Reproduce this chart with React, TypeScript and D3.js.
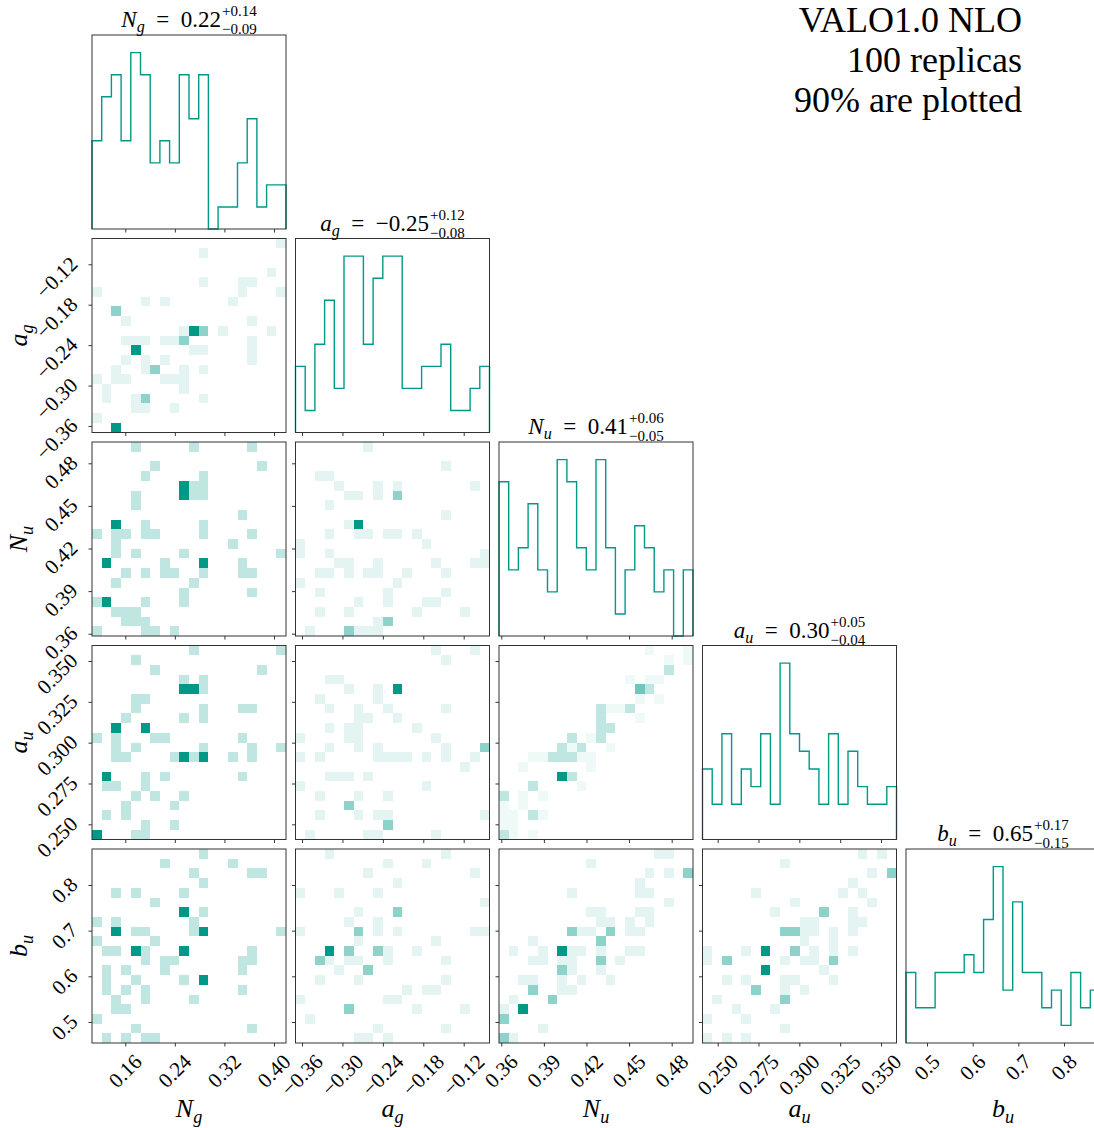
import * as d3 from "d3";
import { useEffect, useRef } from "react";

// parameter names: symbol + subscript
const symbols = ["N", "a", "N", "a", "b"];
const subs = ["g", "g", "u", "u", "u"];

// plotted range of each parameter (min, max of the replicas)
const rangeLo = [0.1063, -0.3697, 0.3584, 0.2407, 0.454];
const rangeHi = [0.4194, -0.0817, 0.495, 0.3595, 0.8788];

// tick values
const ticksNg = [0.16, 0.24, 0.32, 0.4];
const ticksAg = [-0.36, -0.3, -0.24, -0.18, -0.12];
const ticksNu = [0.36, 0.39, 0.42, 0.45, 0.48];
const ticksAu = [0.25, 0.275, 0.3, 0.325, 0.35];
const ticksBu = [0.5, 0.6, 0.7, 0.8];
const tickDigits = [2, 2, 2, 3, 1];

// title numbers (median, +err, -err)
const medians = [0.22, -0.25, 0.41, 0.3, 0.65];
const errUp = [0.14, 0.12, 0.06, 0.05, 0.17];
const errDown = [0.09, 0.08, 0.05, 0.04, 0.15];

// 1D histograms, 20 bins each
const histNg = [4, 6, 7, 4, 8, 7, 3, 4, 3, 7, 5, 7, 0, 1, 1, 3, 5, 1, 2, 2];
const histAg = [3, 1, 4, 6, 2, 8, 8, 4, 7, 8, 8, 2, 2, 3, 3, 4, 1, 1, 2, 3];
const histNu = [7, 3, 4, 6, 3, 2, 8, 7, 4, 3, 8, 4, 1, 3, 5, 4, 2, 3, 0, 3];
const histAu = [4, 2, 6, 2, 4, 3, 6, 2, 10, 6, 5, 4, 2, 6, 2, 5, 3, 2, 2, 3];
const histBu = [4, 2, 2, 4, 4, 4, 5, 4, 7, 10, 3, 8, 4, 4, 2, 3, 1, 4, 2, 3];

// 2D histograms: [x bin, y bin (from bottom), count]
const cellsNgAg = [
  [19, 19, 1], [11, 18, 1], [18, 16, 1], [11, 15, 1], [15, 15, 1], [16, 15, 1],
  [0, 14, 1], [15, 14, 1], [19, 14, 1], [5, 13, 1], [7, 13, 1], [14, 13, 1],
  [2, 12, 2], [3, 11, 1], [16, 11, 1],
  [9, 10, 1], [10, 10, 3], [11, 10, 2], [13, 10, 1], [18, 10, 1],
  [3, 9, 1], [4, 9, 1], [5, 9, 1], [7, 9, 1], [8, 9, 1], [9, 9, 2], [16, 9, 1],
  [4, 8, 3], [10, 8, 1], [11, 8, 1], [16, 8, 1],
  [3, 7, 1], [5, 7, 1], [7, 7, 1], [16, 7, 1],
  [2, 6, 1], [5, 6, 1], [6, 6, 2], [9, 6, 1], [11, 6, 1],
  [0, 5, 1], [2, 5, 1], [3, 5, 1], [7, 5, 1], [8, 5, 1], [9, 5, 1],
  [1, 4, 1], [9, 4, 1], [1, 3, 1], [4, 3, 1], [5, 3, 2], [11, 3, 1],
  [4, 2, 1], [5, 2, 1], [8, 2, 1], [0, 1, 1], [2, 0, 3],
];
const cellsNgNu = [
  [4, 19, 1], [10, 19, 1], [16, 19, 1], [6, 17, 1], [17, 17, 1], [5, 16, 1], [11, 16, 1],
  [9, 15, 2], [10, 15, 1], [11, 15, 1], [4, 14, 1], [9, 14, 2], [10, 14, 1], [11, 14, 1],
  [4, 13, 1], [15, 12, 1], [2, 11, 2], [5, 11, 1], [11, 11, 1],
  [0, 10, 1], [2, 10, 1], [3, 10, 1], [5, 10, 1], [6, 10, 1], [11, 10, 1], [16, 10, 1],
  [2, 9, 1], [14, 9, 1], [2, 8, 1], [4, 8, 1], [9, 8, 1], [19, 8, 1],
  [1, 7, 2], [7, 7, 1], [11, 7, 2], [15, 7, 1],
  [3, 6, 1], [5, 6, 1], [7, 6, 1], [8, 6, 1], [11, 6, 1], [15, 6, 1], [16, 6, 1],
  [2, 5, 1], [10, 5, 1], [9, 4, 1], [16, 4, 1],
  [0, 3, 1], [1, 3, 2], [5, 3, 1], [9, 3, 1], [2, 2, 1], [3, 2, 1], [4, 2, 1],
  [3, 1, 1], [4, 1, 1], [5, 1, 1], [0, 0, 1], [5, 0, 1], [6, 0, 1], [8, 0, 1],
];
const cellsAgNu = [
  [7, 19, 1], [15, 17, 1], [2, 16, 1], [3, 16, 1],
  [4, 15, 1], [8, 15, 1], [10, 15, 1], [18, 15, 1],
  [5, 14, 1], [6, 14, 1], [8, 14, 1], [10, 14, 2], [3, 13, 1], [15, 12, 1],
  [5, 11, 1], [6, 11, 3],
  [3, 10, 1], [6, 10, 1], [7, 10, 1], [9, 10, 1], [10, 10, 1], [12, 10, 1],
  [0, 9, 1], [13, 9, 1], [0, 8, 1], [3, 8, 1], [19, 8, 1],
  [4, 7, 1], [5, 7, 1], [8, 7, 1], [14, 7, 1], [18, 7, 1], [19, 7, 1],
  [2, 6, 1], [3, 6, 1], [5, 6, 1], [7, 6, 1], [8, 6, 1], [11, 6, 1], [15, 6, 1],
  [0, 5, 1], [10, 5, 1], [2, 4, 1], [9, 4, 1], [15, 4, 1],
  [6, 3, 1], [9, 3, 1], [13, 3, 1], [14, 3, 1], [2, 2, 1], [5, 2, 1], [12, 2, 1], [17, 2, 1],
  [8, 1, 1], [9, 1, 2], [1, 0, 1], [5, 0, 2], [6, 0, 1], [7, 0, 1], [8, 0, 1],
];
const cellsNgAu = [
  [10, 19, 1], [19, 19, 1], [4, 18, 1], [6, 17, 1], [17, 17, 1], [9, 16, 1], [11, 16, 1],
  [9, 15, 2], [10, 15, 2], [11, 15, 1], [4, 14, 1], [5, 14, 1],
  [4, 13, 1], [11, 13, 1], [15, 13, 1], [16, 13, 1], [3, 12, 1], [9, 12, 1], [11, 12, 1],
  [2, 11, 2], [5, 11, 2], [0, 10, 1], [2, 10, 1], [6, 10, 1], [7, 10, 1], [15, 10, 1],
  [2, 9, 1], [4, 9, 1], [11, 9, 1], [16, 9, 1], [19, 9, 1],
  [2, 8, 1], [3, 8, 1], [8, 8, 1], [9, 8, 2], [10, 8, 1], [11, 8, 2], [14, 8, 1], [16, 8, 1],
  [1, 6, 2], [5, 6, 1], [7, 6, 1], [15, 6, 1], [1, 5, 1], [2, 5, 1], [5, 5, 1],
  [4, 4, 1], [6, 4, 1], [9, 4, 1], [3, 3, 1], [8, 3, 1], [1, 2, 1], [3, 2, 1],
  [5, 1, 1], [8, 1, 1], [0, 0, 2], [4, 0, 1], [5, 0, 1],
];
const cellsAgAu = [
  [14, 19, 1], [18, 19, 1], [15, 18, 1], [3, 16, 1], [4, 16, 1],
  [5, 15, 1], [8, 15, 1], [10, 15, 3], [2, 14, 1], [8, 14, 1],
  [3, 13, 1], [6, 13, 1], [9, 13, 1], [15, 13, 1], [6, 12, 1], [7, 12, 1], [10, 12, 1],
  [3, 11, 1], [5, 11, 1], [6, 11, 1], [12, 11, 1], [0, 10, 1], [5, 10, 1], [6, 10, 1], [14, 10, 1],
  [3, 9, 1], [6, 9, 1], [8, 9, 1], [15, 9, 1], [19, 9, 2],
  [0, 8, 1], [2, 8, 1], [8, 8, 1], [9, 8, 1], [10, 8, 1], [11, 8, 1], [13, 8, 1], [15, 8, 1], [18, 8, 1],
  [17, 7, 1], [3, 6, 1], [4, 6, 1], [5, 6, 1], [7, 6, 1], [0, 5, 1], [13, 5, 1],
  [2, 4, 1], [6, 4, 1], [9, 4, 1], [5, 3, 2],
  [2, 2, 1], [6, 2, 1], [8, 2, 1], [9, 2, 1], [19, 2, 1], [9, 1, 2],
  [1, 0, 1], [7, 0, 1], [8, 0, 1], [14, 0, 1],
];
const cellsNuAu = [
  [15, 19, 1], [19, 19, 1], [17, 18, 1], [19, 18, 1], [17, 17, 2],
  [13, 16, 1], [15, 16, 1], [16, 16, 1], [14, 15, 3], [15, 15, 2], [14, 14, 1], [16, 14, 1],
  [10, 13, 2], [11, 13, 1], [12, 13, 1], [13, 13, 2], [10, 12, 2], [14, 12, 1],
  [10, 11, 2], [11, 11, 2], [7, 10, 2], [9, 10, 1], [10, 10, 2],
  [6, 9, 2], [7, 9, 1], [8, 9, 2], [11, 9, 1],
  [3, 8, 1], [4, 8, 1], [5, 8, 2], [6, 8, 2], [7, 8, 2], [8, 8, 1], [9, 8, 1],
  [2, 7, 1], [9, 7, 1], [6, 6, 4], [7, 6, 2], [3, 5, 2], [8, 5, 1],
  [0, 4, 2], [2, 4, 1], [4, 4, 1], [0, 3, 1], [2, 3, 1],
  [0, 2, 1], [1, 2, 1], [3, 2, 2], [4, 2, 1], [0, 1, 1], [1, 1, 1],
  [0, 0, 2], [1, 0, 1], [3, 0, 1],
];
const cellsNgBu = [
  [11, 19, 1], [7, 18, 1], [14, 18, 1], [10, 17, 1], [16, 17, 1], [17, 17, 1], [11, 16, 1],
  [2, 15, 1], [4, 15, 1], [9, 15, 1], [6, 14, 1], [9, 13, 2], [11, 13, 1],
  [0, 12, 1], [2, 12, 1], [10, 12, 1],
  [2, 11, 2], [4, 11, 1], [5, 11, 1], [10, 11, 1], [11, 11, 2], [19, 11, 1],
  [0, 10, 1], [6, 10, 1], [1, 9, 1], [2, 9, 1], [4, 9, 2], [5, 9, 1], [9, 9, 2], [16, 9, 1],
  [5, 8, 1], [7, 8, 1], [8, 8, 1], [15, 8, 1], [16, 8, 1],
  [1, 7, 1], [3, 7, 1], [7, 7, 1], [15, 7, 1], [1, 6, 1], [4, 6, 1], [9, 6, 1], [11, 6, 2],
  [1, 5, 1], [3, 5, 1], [5, 5, 1], [15, 5, 1], [2, 4, 1], [5, 4, 1], [10, 4, 1],
  [2, 3, 1], [3, 3, 1], [0, 2, 1], [4, 1, 1], [16, 1, 1],
  [1, 0, 1], [3, 0, 1], [5, 0, 1], [6, 0, 1],
];
const cellsAgBu = [
  [3, 19, 1], [15, 19, 1], [9, 18, 1], [13, 18, 1], [7, 17, 1], [18, 17, 1], [10, 16, 1],
  [0, 15, 1], [4, 15, 1], [8, 15, 1], [19, 14, 1], [6, 13, 1], [10, 13, 2], [5, 12, 1], [8, 12, 1],
  [0, 11, 1], [6, 11, 2], [8, 11, 1], [10, 11, 1], [18, 11, 1], [19, 11, 1],
  [6, 10, 1], [14, 10, 1], [3, 9, 3], [5, 9, 2], [8, 9, 2], [9, 9, 1], [12, 9, 1],
  [2, 8, 2], [3, 8, 1], [5, 8, 1], [6, 8, 1], [9, 8, 1], [15, 8, 1],
  [4, 7, 1], [7, 7, 2], [2, 6, 1], [6, 6, 1], [15, 6, 1], [11, 5, 1], [13, 5, 1], [14, 5, 1],
  [0, 4, 1], [9, 4, 1], [10, 4, 1], [5, 3, 2], [12, 3, 1], [17, 3, 1], [1, 2, 1],
  [8, 1, 1], [15, 1, 1], [6, 0, 1], [7, 0, 1], [9, 0, 1],
];
const cellsNuBu = [
  [16, 19, 1], [17, 19, 1], [9, 18, 1], [15, 17, 1], [17, 17, 1], [19, 17, 2], [14, 16, 1],
  [7, 15, 1], [14, 15, 1], [15, 15, 1], [17, 14, 1],
  [9, 13, 1], [10, 13, 1], [14, 13, 1], [15, 13, 1], [10, 12, 1], [11, 12, 1], [13, 12, 1], [15, 12, 1],
  [7, 11, 2], [8, 11, 1], [9, 11, 1], [11, 11, 2], [13, 11, 1], [14, 11, 1], [3, 10, 1], [10, 10, 2],
  [1, 9, 1], [4, 9, 1], [6, 9, 3], [7, 9, 1], [8, 9, 1], [10, 9, 1], [13, 9, 1], [14, 9, 1],
  [3, 8, 1], [4, 8, 1], [6, 8, 1], [7, 8, 1], [10, 8, 2], [12, 8, 1],
  [6, 7, 2], [7, 7, 1], [10, 7, 1], [2, 6, 1], [3, 6, 1], [6, 6, 1], [8, 6, 1], [11, 6, 1],
  [3, 5, 2], [6, 5, 1], [7, 5, 1], [1, 4, 1], [5, 4, 2], [0, 3, 1], [2, 3, 3],
  [0, 2, 2], [4, 1, 1], [0, 0, 2], [1, 0, 1],
];
const cellsAuBu = [
  [16, 19, 1], [18, 19, 1], [8, 18, 1], [17, 17, 1], [19, 17, 2], [15, 16, 1],
  [5, 15, 1], [14, 15, 1], [16, 15, 1], [9, 14, 1], [17, 14, 1], [7, 13, 1], [12, 13, 2], [15, 13, 1],
  [10, 12, 1], [11, 12, 1], [15, 12, 1], [16, 12, 1],
  [8, 11, 2], [9, 11, 2], [10, 11, 1], [11, 11, 1], [13, 11, 1], [15, 11, 1], [10, 10, 1], [13, 10, 1],
  [0, 9, 1], [4, 9, 1], [6, 9, 3], [9, 9, 2], [11, 9, 1], [13, 9, 1], [15, 9, 1],
  [0, 8, 1], [2, 8, 2], [8, 8, 1], [10, 8, 1], [11, 8, 1], [13, 8, 2], [6, 7, 3], [12, 7, 1],
  [2, 6, 1], [4, 6, 1], [8, 6, 1], [9, 6, 1], [13, 6, 1], [5, 5, 2], [8, 5, 1], [10, 5, 1],
  [1, 4, 1], [8, 4, 2], [3, 3, 1], [7, 3, 1], [0, 2, 1], [4, 2, 1], [8, 1, 1],
  [0, 0, 1], [2, 0, 1], [4, 0, 1],
];

const infoLines = ["VALO1.0 NLO", "100 replicas", "90% are plotted"];

const hists = [histNg, histAg, histNu, histAu, histBu];
const ticks = [ticksNg, ticksAg, ticksNu, ticksAu, ticksBu];
const panels2d: [number, number, number[][]][] = [
  [0, 1, cellsNgAg], [0, 2, cellsNgNu], [1, 2, cellsAgNu],
  [0, 3, cellsNgAu], [1, 3, cellsAgAu], [2, 3, cellsNuAu],
  [0, 4, cellsNgBu], [1, 4, cellsAgBu], [2, 4, cellsNuBu], [3, 4, cellsAuBu],
];

const W = 1094;
const H = 1128;
const LEFT = 92;
const TOP = 35;
const SIZE = 194;
const STEP = 203.5;
const NBINS = 20;
const COLOR = "#009988";
const FONT = "'Liberation Serif', 'DejaVu Serif', serif";
const TICK_FS = 21;
const TITLE_FS = 23;
const SCRIPT_FS = 15;
const LABEL_FS = 26;

type TextSel = d3.Selection<SVGTextElement, unknown, null, undefined>;

const App = () => {
  const svgRef = useRef<SVGSVGElement | null>(null);

  useEffect(() => {
    const svg = d3.select(svgRef.current);
    svg.selectAll("*").remove();

    const n = symbols.length;
    const px = (i: number) => LEFT + i * STEP;
    const py = (j: number) => TOP + j * STEP;
    const xs = d3.range(n).map(i => d3.scaleLinear().domain([rangeLo[i], rangeHi[i]]).range([0, SIZE]));
    const ys = d3.range(n).map(i => d3.scaleLinear().domain([rangeLo[i], rangeHi[i]]).range([SIZE, 0]));
    const edges = (i: number) => d3.range(NBINS + 1).map(k => rangeLo[i] + (k * (rangeHi[i] - rangeLo[i])) / NBINS);
    const fmtTick = (i: number) => d3.format(`.${tickDigits[i]}f`);
    const fmt2 = d3.format(".2f");
    const shade = d3.interpolateRgb("#ffffff", COLOR);

    // 2D histograms
    panels2d.forEach(([c, r, cells]) => {
      const g = svg.append("g").attr("transform", `translate(${px(c)},${py(r)})`);
      const ex = edges(c);
      const ey = edges(r);
      const maxN = d3.max(cells, d => d[2]) ?? 1;
      g.selectAll("rect.cell")
        .data(cells)
        .enter()
        .append("rect")
        .attr("class", "cell")
        .attr("x", d => xs[c](ex[d[0]]))
        .attr("width", d => xs[c](ex[d[0] + 1]) - xs[c](ex[d[0]]))
        .attr("y", d => ys[r](ey[d[1] + 1]))
        .attr("height", d => ys[r](ey[d[1]]) - ys[r](ey[d[1] + 1]))
        .attr("fill", d => shade(Math.pow(d[2] / maxN, 2)))
        .attr("shape-rendering", "crispEdges");
    });

    // diagonal 1D histograms
    hists.forEach((h, i) => {
      const g = svg.append("g").attr("transform", `translate(${px(i)},${py(i)})`);
      const e = edges(i);
      const yh = d3.scaleLinear().domain([0, 1.1 * (d3.max(h) ?? 1)]).range([SIZE, 0]);
      const pts: [number, number][] = [[xs[i](e[0]), yh(0)]];
      h.forEach((v, k) => {
        pts.push([xs[i](e[k]), yh(v)]);
        pts.push([xs[i](e[k + 1]), yh(v)]);
      });
      pts.push([xs[i](e[NBINS]), yh(0)]);
      g.append("path")
        .attr("d", d3.line()(pts))
        .attr("fill", "none")
        .attr("stroke", COLOR)
        .attr("stroke-width", 1.4);
    });

    // frames + ticks
    for (let r = 0; r < n; r++) {
      for (let c = 0; c <= r; c++) {
        const g = svg.append("g").attr("transform", `translate(${px(c)},${py(r)})`);
        const xa = g.append("g")
          .attr("transform", `translate(0,${SIZE})`)
          .call(d3.axisBottom(xs[c]).tickValues(ticks[c]).tickSize(3.5).tickFormat(() => ""));
        xa.select(".domain").remove();
        if (c !== r) {
          const ya = g.append("g")
            .call(d3.axisLeft(ys[r]).tickValues(ticks[r]).tickSize(3.5).tickFormat(() => ""));
          ya.select(".domain").remove();
        }
        g.selectAll(".tick line").attr("stroke", "#000").attr("stroke-width", 0.8);
        g.append("rect")
          .attr("width", SIZE)
          .attr("height", SIZE)
          .attr("fill", "none")
          .attr("stroke", "#333")
          .attr("stroke-width", 1);
      }
    }

    const rot = Math.SQRT1_2;
    const tickText = (g: d3.Selection<SVGGElement, unknown, null, undefined>, s: string) => {
      const txt = g.append("text")
        .attr("font-family", FONT)
        .attr("font-size", TICK_FS)
        .attr("text-anchor", "middle")
        .attr("dominant-baseline", "central")
        .text(s);
      const L = (txt.node() as SVGTextElement).getComputedTextLength();
      return { txt, half: ((L + TICK_FS * 0.68) * rot) / 2 };
    };

    // bottom tick labels
    for (let c = 0; c < n; c++) {
      const g = svg.append("g").attr("transform", `translate(${px(c)},${py(n - 1) + SIZE})`) as d3.Selection<SVGGElement, unknown, null, undefined>;
      ticks[c].forEach(t => {
        const { txt, half } = tickText(g, fmtTick(c)(t));
        txt.attr("transform", `translate(${xs[c](t)},${10 + half}) rotate(-45)`);
      });
    }

    // left tick labels
    for (let r = 1; r < n; r++) {
      const g = svg.append("g").attr("transform", `translate(${px(0)},${py(r)})`) as d3.Selection<SVGGElement, unknown, null, undefined>;
      ticks[r].forEach(t => {
        const { txt, half } = tickText(g, fmtTick(r)(t));
        txt.attr("transform", `translate(${-13 - half},${ys[r](t) - 9 + half}) rotate(-45)`);
      });
    }

    const label = (sel: TextSel, i: number, fs: number) => {
      sel.append("tspan").attr("font-style", "italic").text(symbols[i]);
      sel.append("tspan")
        .attr("font-style", "italic")
        .attr("font-size", fs * 0.7)
        .attr("dy", fs * 0.22)
        .text(subs[i]);
    };

    // axis labels
    for (let c = 0; c < n; c++) {
      const t = svg.append("text")
        .attr("font-family", FONT)
        .attr("font-size", LABEL_FS)
        .attr("text-anchor", "middle")
        .attr("x", px(c) + SIZE / 2)
        .attr("y", 1117) as TextSel;
      label(t, c, LABEL_FS);
    }
    for (let r = 1; r < n; r++) {
      const t = svg.append("text")
        .attr("font-family", FONT)
        .attr("font-size", LABEL_FS)
        .attr("text-anchor", "middle")
        .attr("transform", `translate(27,${py(r) + SIZE / 2}) rotate(-90)`) as TextSel;
      label(t, r, LABEL_FS);
    }

    // titles
    for (let i = 0; i < n; i++) {
      const g = svg.append("g");
      const main = g.append("text").attr("font-family", FONT).attr("font-size", TITLE_FS) as TextSel;
      label(main, i, TITLE_FS);
      main.append("tspan").attr("dy", -TITLE_FS * 0.22).text(`\u2002=\u2002${fmt2(medians[i])}`);
      const w = (main.node() as SVGTextElement).getComputedTextLength() + 1;
      const sup = g.append("text")
        .attr("font-family", FONT)
        .attr("font-size", SCRIPT_FS)
        .attr("x", w)
        .attr("y", -11)
        .text(`+${fmt2(errUp[i])}`);
      const sub = g.append("text")
        .attr("font-family", FONT)
        .attr("font-size", SCRIPT_FS)
        .attr("x", w)
        .attr("y", 7)
        .text(`\u2212${fmt2(errDown[i])}`);
      const ws = Math.max(
        (sup.node() as SVGTextElement).getComputedTextLength(),
        (sub.node() as SVGTextElement).getComputedTextLength()
      );
      const total = w + ws;
      g.attr("transform", `translate(${px(i) + SIZE / 2 - total / 2},${py(i) - 8})`);
    }

    // info text
    svg.append("g")
      .selectAll("text")
      .data(infoLines)
      .enter()
      .append("text")
      .attr("font-family", FONT)
      .attr("font-size", 36)
      .attr("text-anchor", "end")
      .attr("x", 1022)
      .attr("y", (d, i) => 32 + i * 40)
      .text(d => d);
  }, []);

  return (
    <svg
      ref={svgRef}
      width={W}
      height={H}
      style={{ position: "absolute", left: 0, top: 0, background: "#fff" }}
    ></svg>
  );
};

export default App;
